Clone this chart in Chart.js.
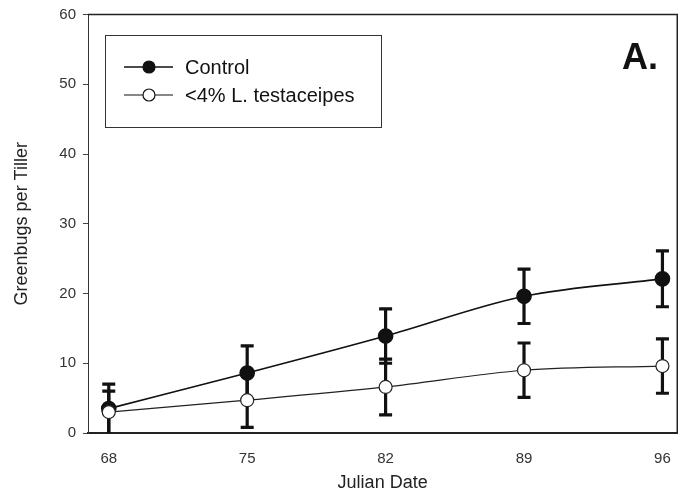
<!DOCTYPE html>
<html>
<head>
<meta charset="utf-8">
<script src="https://cdn.jsdelivr.net/npm/chart.js@4/dist/chart.umd.min.js"></script>
<style>
  html, body { margin: 0; padding: 0; background: #fff; overflow: hidden; }
  #wrap { width: 688px; height: 496px; }
</style>
</head>
<body>
<div id="wrap"><canvas id="c"></canvas></div>
<script>
// julian dates and greenbug counts
const days = [68, 75, 82, 89, 96];
const controlMean = [3.5, 8.6, 13.9, 19.6, 22.1];
const controlErr = [3.5, 3.9, 3.9, 3.9, 4.0];
const testMean = [3.0, 4.7, 6.6, 9.0, 9.6];
const testErr = [3.0, 3.9, 4.0, 3.9, 3.9];
const yTicks = [0, 10, 20, 30, 40, 50, 60];
const seriesLabels = ["Control", "<4% L. testaceipes"];
const panelLabel = "A.";

const FONT = "'Liberation Sans', Arial, sans-serif";

// error bars, frame, legend box and panel letter
const extras = {
  id: "extras",
  beforeDatasetsDraw(chart) {
    const ctx = chart.ctx;
    const x = chart.scales.x, y = chart.scales.y;
    ctx.save();
    ctx.strokeStyle = "#111";
    ctx.lineWidth = 3.2;
    const bars = [[controlMean, controlErr], [testMean, testErr]];
    bars.forEach(([m, e]) => {
      days.forEach((d, i) => {
        const px = x.getPixelForValue(d);
        const top = y.getPixelForValue(m[i] + e[i]);
        const bot = y.getPixelForValue(Math.max(m[i] - e[i], 0));
        ctx.beginPath();
        ctx.moveTo(px, top); ctx.lineTo(px, bot);
        ctx.moveTo(px - 6.5, top); ctx.lineTo(px + 6.5, top);
        if (m[i] - e[i] > 0) { ctx.moveTo(px - 6.5, bot); ctx.lineTo(px + 6.5, bot); }
        ctx.stroke();
      });
    });
    ctx.restore();
  },
  afterDraw(chart) {
    const ctx = chart.ctx;
    const a = chart.chartArea;
    ctx.save();
    // frame
    ctx.strokeStyle = "#222";
    ctx.lineWidth = 1.5;
    ctx.beginPath();
    ctx.moveTo(a.left, a.top); ctx.lineTo(a.right, a.top);
    ctx.lineTo(a.right, a.bottom);
    ctx.stroke();
    // legend box
    ctx.lineWidth = 1;
    ctx.strokeStyle = "#333";
    ctx.strokeRect(105.5, 35.5, 276, 92);
    ctx.font = "20px " + FONT;
    ctx.textBaseline = "middle";
    ctx.fillStyle = "#111";
    const rows = [67, 95];
    chart.data.datasets.forEach((ds, i) => {
      const yy = rows[i];
      ctx.strokeStyle = "#111";
      ctx.lineWidth = ds.borderWidth;
      ctx.beginPath();
      ctx.moveTo(124, yy); ctx.lineTo(173, yy);
      ctx.stroke();
      ctx.beginPath();
      ctx.arc(149, yy, 6, 0, Math.PI * 2);
      ctx.fillStyle = ds.pointBackgroundColor;
      ctx.fill();
      ctx.lineWidth = 1.2;
      ctx.stroke();
      ctx.fillStyle = "#111";
      ctx.fillText(seriesLabels[i], 185, yy + 1);
    });
    // panel letter
    ctx.font = "bold 36px " + FONT;
    ctx.textAlign = "center";
    ctx.fillText(panelLabel, 640, 59);
    ctx.restore();
  }
};

new Chart(document.getElementById("c"), {
  type: "line",
  data: {
    datasets: [
      {
        label: seriesLabels[0],
        data: days.map((d, i) => ({ x: d, y: controlMean[i] })),
        borderColor: "#111",
        borderWidth: 1.7,
        pointRadius: 7,
        pointBackgroundColor: "#111",
        pointBorderColor: "#111",
        cubicInterpolationMode: "monotone",
        order: 2
      },
      {
        label: seriesLabels[1],
        data: days.map((d, i) => ({ x: d, y: testMean[i] })),
        borderColor: "#222",
        borderWidth: 1.2,
        pointRadius: 6.5,
        pointBackgroundColor: "#fff",
        pointBorderColor: "#222",
        pointBorderWidth: 1.2,
        cubicInterpolationMode: "monotone",
        order: 1
      }
    ]
  },
  options: {
    responsive: true,
    maintainAspectRatio: false,
    animation: false,
    layout: { padding: { top: 14, right: 1, left: 0, bottom: 0 } },
    plugins: { legend: { display: false }, tooltip: { enabled: false } },
    scales: {
      x: {
        type: "linear",
        min: 66.95,
        max: 96.75,
        afterBuildTicks: (s) => { s.ticks = days.map(v => ({ value: v })); },
        afterFit: (s) => { s.height = 63; },
        grid: { display: false, drawTicks: false },
        border: { color: "#222", width: 2 },
        ticks: { color: "#333", font: { family: FONT, size: 15 }, padding: 17 },
        title: { display: true, text: "Julian Date", color: "#222", font: { family: FONT, size: 18 }, padding: { top: 4, bottom: 2 } }
      },
      y: {
        min: 0,
        max: 60,
        afterBuildTicks: (s) => { s.ticks = yTicks.map(v => ({ value: v })); },
        afterFit: (s) => { s.width = 88; },
        grid: { drawOnChartArea: false, tickLength: 5, color: "#444" },
        border: { color: "#333", width: 1 },
        ticks: { color: "#333", font: { family: FONT, size: 15, lineHeight: 1 }, padding: 7 },
        title: { display: true, text: "Greenbugs per Tiller", color: "#222", font: { family: FONT, size: 18 }, padding: { top: 11, bottom: 4 } }
      }
    }
  },
  plugins: [extras]
});
</script>
</body>
</html>
